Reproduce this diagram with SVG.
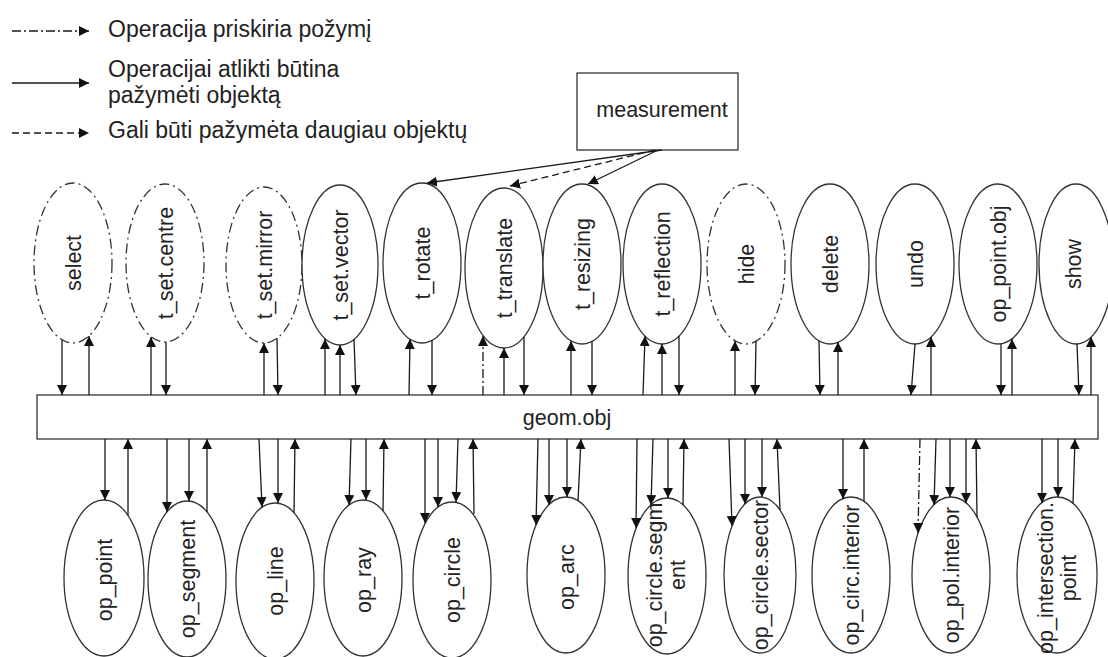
<svg xmlns="http://www.w3.org/2000/svg" width="1108" height="657" viewBox="0 0 1108 657">
<style>
.c{stroke:#1a1a1a;stroke-width:1.3;fill:none;marker-end:url(#ah)}
.dd{stroke-dasharray:9 3 2 3}
.da{stroke-dasharray:7 4}
.n{fill:#fff;stroke:#333;stroke-width:1.3}
.ndd{fill:#fff;stroke:#333;stroke-width:1.3;stroke-dasharray:10 4 2 4}
.t{font-family:"Liberation Sans",Arial,sans-serif;font-size:21.5px;fill:#222;text-anchor:middle}
.lg{font-family:"Liberation Sans",Arial,sans-serif;font-size:23px;fill:#222}
</style>
<defs>
<marker id="ah" markerUnits="userSpaceOnUse" markerWidth="11" markerHeight="10" refX="10" refY="5" orient="auto">
<path d="M0,0 L10,5 L0,10 z" fill="#111"/>
</marker>
</defs>
<rect width="1108" height="657" fill="#fff"/>

<g id="legend">
<line class="c dd" x1="12" y1="31" x2="89" y2="31"/>
<text class="lg" x="108" y="37">Operacija priskiria požymį</text>
<line class="c" x1="12" y1="83" x2="89" y2="83"/>
<text class="lg" x="108" y="77">Operacijai atlikti būtina</text>
<text class="lg" x="108" y="103">pažymėti objektą</text>
<line class="c da" x1="12" y1="133" x2="89" y2="133"/>
<text class="lg" x="108" y="138">Gali būti pažymėta daugiau objektų</text>
</g>

<g id="measurement">
<rect class="n" x="577" y="73" width="161" height="77"/>
<text class="t" x="662" y="117">measurement</text>
</g>

<g id="geom_obj">
<rect class="n" x="37" y="395" width="1061" height="44"/>
<text class="t" x="567" y="425">geom.obj</text>
</g>

<g id="select"><ellipse class="ndd" cx="73" cy="263" rx="39" ry="80"/><text class="t" transform="translate(73,263) rotate(-90)" y="7.5">select</text></g>
<g id="t_set_centre"><ellipse class="ndd" cx="165" cy="263" rx="39" ry="79"/><text class="t" transform="translate(165,263) rotate(-90)" y="7.5">t_set.centre</text></g>
<g id="t_set_mirror"><ellipse class="ndd" cx="264" cy="265" rx="38" ry="78"/><text class="t" transform="translate(264,265) rotate(-90)" y="7.5">t_set.mirror</text></g>
<g id="t_set_vector"><ellipse class="n" cx="340" cy="265" rx="38" ry="80"/><text class="t" transform="translate(340,265) rotate(-90)" y="7.5">t_set.vector</text></g>
<g id="t_rotate"><ellipse class="n" cx="422" cy="263" rx="39" ry="80"/><text class="t" transform="translate(422,263) rotate(-90)" y="7.5">t_rotate</text></g>
<g id="t_translate"><ellipse class="n" cx="504" cy="268" rx="39" ry="80"/><text class="t" transform="translate(504,268) rotate(-90)" y="7.5">t_translate</text></g>
<g id="t_resizing"><ellipse class="n" cx="582" cy="264" rx="39" ry="80"/><text class="t" transform="translate(582,264) rotate(-90)" y="7.5">t_resizing</text></g>
<g id="t_reflection"><ellipse class="n" cx="662" cy="264" rx="39" ry="80"/><text class="t" transform="translate(662,264) rotate(-90)" y="7.5">t_reflection</text></g>
<g id="hide"><ellipse class="ndd" cx="746" cy="264" rx="39" ry="80"/><text class="t" transform="translate(746,264) rotate(-90)" y="7.5">hide</text></g>
<g id="delete"><ellipse class="n" cx="830" cy="264" rx="39" ry="80"/><text class="t" transform="translate(830,264) rotate(-90)" y="7.5">delete</text></g>
<g id="undo"><ellipse class="n" cx="915" cy="264" rx="39" ry="80"/><text class="t" transform="translate(915,264) rotate(-90)" y="7.5">undo</text></g>
<g id="op_point_obj"><ellipse class="n" cx="998" cy="264" rx="39" ry="80"/><text class="t" transform="translate(998,264) rotate(-90)" y="7.5">op_point.obj</text></g>
<g id="show"><ellipse class="n" cx="1076" cy="264" rx="37" ry="80"/><text class="t" transform="translate(1073,264) rotate(-90)" y="7.5">show</text></g>

<g id="op_point"><ellipse class="n" cx="104" cy="578" rx="40" ry="78"/><text class="t" transform="translate(104,580) rotate(-90)" y="7.5">op_point</text></g>
<g id="op_segment"><ellipse class="n" cx="187" cy="579" rx="39" ry="78"/><text class="t" transform="translate(187,579) rotate(-90)" y="7.5">op_segment</text></g>
<g id="op_line"><ellipse class="n" cx="275" cy="581" rx="39" ry="78"/><text class="t" transform="translate(275,581) rotate(-90)" y="7.5">op_line</text></g>
<g id="op_ray"><ellipse class="n" cx="363" cy="578" rx="39" ry="78"/><text class="t" transform="translate(363,580) rotate(-90)" y="7.5">op_ray</text></g>
<g id="op_circle"><ellipse class="n" cx="452" cy="580" rx="39" ry="78"/><text class="t" transform="translate(452,580) rotate(-90)" y="7.5">op_circle</text></g>
<g id="op_arc"><ellipse class="n" cx="566" cy="575" rx="39" ry="78"/><text class="t" transform="translate(566,577) rotate(-90)" y="7.5">op_arc</text></g>
<g id="op_circle_segment"><ellipse class="n" cx="667" cy="576" rx="39" ry="78"/><text class="t" transform="translate(667,575) rotate(-90)"><tspan x="0" y="-5">op_circle.segm</tspan><tspan x="0" y="18">ent</tspan></text></g>
<g id="op_circle_sector"><ellipse class="n" cx="760" cy="575" rx="36" ry="78"/><text class="t" transform="translate(760,575) rotate(-90)" y="7.5">op_circle.sector</text></g>
<g id="op_circ_interior"><ellipse class="n" cx="851" cy="575" rx="39" ry="78"/><text class="t" transform="translate(851,575) rotate(-90)" y="7.5">op_circ.interior</text></g>
<g id="op_pol_interior"><ellipse class="n" cx="951" cy="575" rx="39" ry="78"/><text class="t" transform="translate(951,575) rotate(-90)" y="7.5">op_pol.interior</text></g>
<g id="op_intersection_point"><ellipse class="n" cx="1057" cy="575" rx="40" ry="78"/><text class="t" transform="translate(1057,578) rotate(-90)"><tspan x="0" y="-4">op_intersection.</tspan><tspan x="0" y="19">point</tspan></text></g>

<g id="connectors">
<line class="c" x1="662" y1="150" x2="427" y2="183"/>
<line class="c da" x1="655" y1="150" x2="510" y2="186"/>
<line class="c" x1="658" y1="150" x2="588" y2="184"/>

<line class="c" x1="62" y1="340" x2="62" y2="395"/>
<line class="c" x1="89" y1="395" x2="89" y2="336"/>
<line class="c" x1="151" y1="395" x2="151" y2="337"/>
<line class="c" x1="166" y1="342" x2="166" y2="395"/>
<line class="c" x1="264" y1="395" x2="264" y2="343"/>
<line class="c" x1="277" y1="338" x2="278" y2="395"/>
<line class="c" x1="325" y1="395" x2="325" y2="339"/>
<line class="c" x1="340" y1="395" x2="340" y2="345"/>
<line class="c" x1="354" y1="339" x2="356" y2="395"/>
<line class="c" x1="409" y1="395" x2="410" y2="339"/>
<line class="c" x1="432" y1="340" x2="432" y2="395"/>
<line class="c dd" x1="483" y1="395" x2="483" y2="336"/>
<line class="c" x1="504" y1="395" x2="504" y2="348"/>
<line class="c" x1="524" y1="337" x2="524" y2="395"/>
<line class="c" x1="571" y1="395" x2="571" y2="341"/>
<line class="c" x1="592" y1="341" x2="592" y2="395"/>
<line class="c" x1="643" y1="395" x2="645" y2="336"/>
<line class="c" x1="662" y1="395" x2="662" y2="344"/>
<line class="c" x1="679" y1="336" x2="679" y2="395"/>
<line class="c" x1="735" y1="395" x2="735" y2="341"/>
<line class="c" x1="756" y1="341" x2="755" y2="395"/>
<line class="c" x1="819" y1="341" x2="820" y2="395"/>
<line class="c" x1="838" y1="395" x2="838" y2="342"/>
<line class="c" x1="915" y1="344" x2="911" y2="395"/>
<line class="c" x1="931" y1="395" x2="931" y2="337"/>
<line class="c" x1="1001" y1="344" x2="1001" y2="395"/>
<line class="c" x1="1012" y1="395" x2="1012" y2="339"/>
<line class="c" x1="1077" y1="344" x2="1079" y2="395"/>
<line class="c" x1="1091" y1="395" x2="1091" y2="337"/>

<line class="c" x1="105" y1="439" x2="105" y2="500"/>
<line class="c" x1="128" y1="515" x2="128" y2="439"/>
<line class="c" x1="167" y1="439" x2="167" y2="512"/>
<line class="c" x1="189" y1="439" x2="189" y2="501"/>
<line class="c" x1="207" y1="512" x2="207" y2="439"/>
<line class="c" x1="259" y1="439" x2="262" y2="507"/>
<line class="c" x1="278" y1="439" x2="278" y2="503"/>
<line class="c" x1="294" y1="513" x2="295" y2="439"/>
<line class="c" x1="351" y1="439" x2="349" y2="505"/>
<line class="c" x1="366" y1="439" x2="366" y2="500"/>
<line class="c" x1="383" y1="511" x2="384" y2="439"/>
<line class="c" x1="425" y1="439" x2="425" y2="523"/>
<line class="c" x1="438" y1="439" x2="438" y2="507"/>
<line class="c" x1="458" y1="439" x2="456" y2="502"/>
<line class="c" x1="474" y1="514" x2="473" y2="439"/>
<line class="c" x1="538" y1="439" x2="536" y2="525"/>
<line class="c" x1="549" y1="439" x2="549" y2="505"/>
<line class="c" x1="567" y1="439" x2="567" y2="497"/>
<line class="c" x1="578" y1="501" x2="581" y2="439"/>
<line class="c" x1="637" y1="439" x2="636" y2="528"/>
<line class="c" x1="653" y1="439" x2="651" y2="505"/>
<line class="c" x1="668" y1="439" x2="668" y2="498"/>
<line class="c" x1="683" y1="505" x2="684" y2="439"/>
<line class="c" x1="729" y1="439" x2="732" y2="526"/>
<line class="c" x1="745" y1="439" x2="745" y2="504"/>
<line class="c" x1="762" y1="439" x2="762" y2="497"/>
<line class="c" x1="780" y1="510" x2="777" y2="439"/>
<line class="c" x1="843" y1="439" x2="843" y2="499"/>
<line class="c" x1="864" y1="501" x2="864" y2="439"/>
<line class="c dd" x1="920" y1="439" x2="918" y2="533"/>
<line class="c" x1="936" y1="439" x2="934" y2="505"/>
<line class="c" x1="950" y1="439" x2="950" y2="497"/>
<line class="c" x1="966" y1="439" x2="966" y2="503"/>
<line class="c" x1="977" y1="517" x2="976" y2="439"/>
<line class="c" x1="1042" y1="439" x2="1042" y2="503"/>
<line class="c" x1="1058" y1="439" x2="1058" y2="497"/>
<line class="c" x1="1073" y1="503" x2="1075" y2="439"/>
</g>
</svg>
